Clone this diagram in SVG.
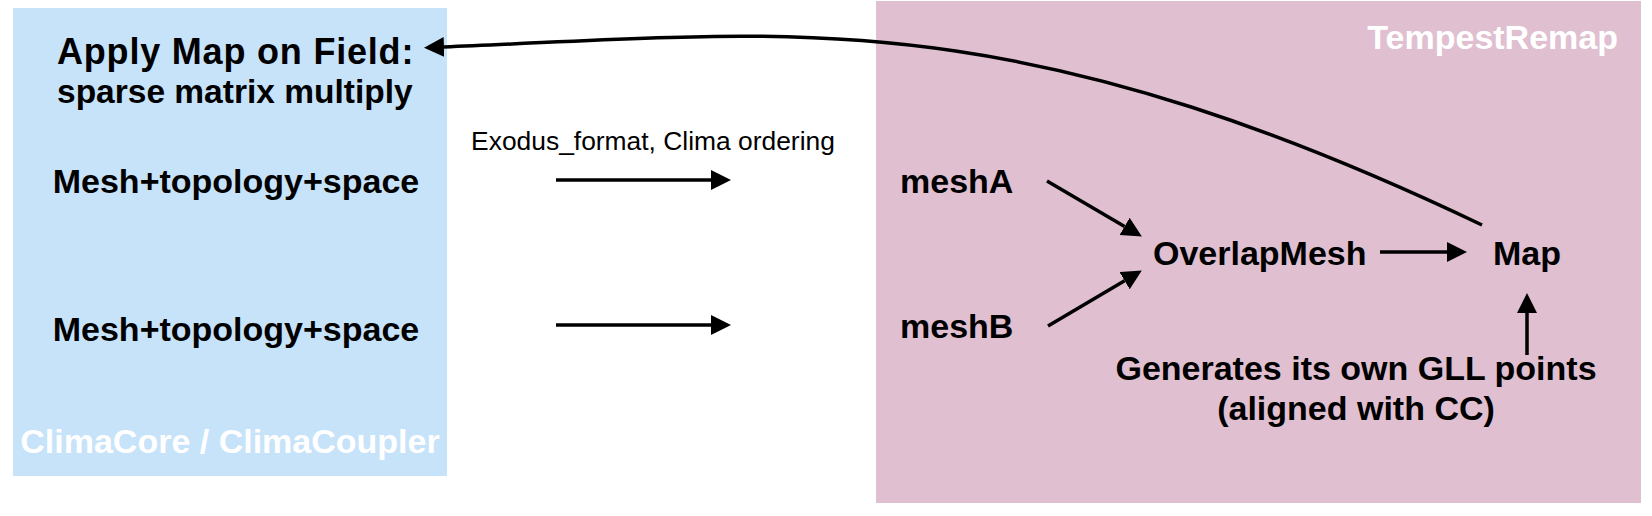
<svg xmlns="http://www.w3.org/2000/svg" width="1652" height="516" viewBox="0 0 1652 516">
<defs>
<style>
.b{font-family:"Liberation Sans",Arial,Helvetica,sans-serif;font-weight:bold;font-size:34px;fill:#000}
.w{font-family:"Liberation Sans",Arial,Helvetica,sans-serif;font-weight:bold;font-size:34px;fill:#fff}
.r{font-family:"Liberation Sans",Arial,Helvetica,sans-serif;font-size:26.4px;fill:#000}
.c{fill:none;stroke:#000;stroke-width:3.5}
</style>
<marker id="ah" markerUnits="userSpaceOnUse" markerWidth="20" markerHeight="20" viewBox="0 0 19 19" refX="0" refY="9.5" orient="auto">
<path d="M0,0 L19,9.5 L0,19 z" fill="#000"/>
</marker>
</defs>
<rect width="1652" height="516" fill="#fff"/>
<g id="climacore">
<rect x="13" y="8" width="434" height="468" fill="#c7e3f9"/>
<text class="w" x="230" y="453" text-anchor="middle">ClimaCore / ClimaCoupler</text>
</g>
<g id="tempestremap">
<rect x="876" y="1" width="765" height="502" fill="#dfbfd0"/>
<text class="w" x="1618" y="49" text-anchor="end">TempestRemap</text>
</g>
<g id="apply-map">
<text class="b" x="57" y="64" style="font-size:36px;letter-spacing:0.8px">Apply Map on Field:</text>
<text class="b" x="57" y="103" style="font-size:33.5px">sparse matrix multiply</text>
</g>
<g id="mesh1"><text class="b" x="236" y="193" text-anchor="middle">Mesh+topology+space</text></g>
<g id="mesh2"><text class="b" x="236" y="341" text-anchor="middle">Mesh+topology+space</text></g>
<g id="meshA"><text class="b" x="900" y="193">meshA</text></g>
<g id="meshB"><text class="b" x="900" y="338">meshB</text></g>
<g id="overlapmesh"><text class="b" x="1153" y="265">OverlapMesh</text></g>
<g id="map"><text class="b" x="1493" y="265">Map</text></g>
<g id="gll">
<text class="b" x="1356" y="380" text-anchor="middle">Generates its own GLL points</text>
<text class="b" x="1356" y="420" text-anchor="middle">(aligned with CC)</text>
</g>
<g id="connectors">
<text class="r" x="653" y="150" text-anchor="middle">Exodus_format, Clima ordering</text>
<path class="c" d="M556,180 H711" marker-end="url(#ah)"/>
<path class="c" d="M556,325 H711" marker-end="url(#ah)"/>
<path class="c" d="M1047,181 L1124.6,226.4" marker-end="url(#ah)"/>
<path class="c" d="M1048,326 L1124.6,280.7" marker-end="url(#ah)"/>
<path class="c" d="M1380,252 H1447" marker-end="url(#ah)"/>
<path class="c" d="M1527,355 V313" marker-end="url(#ah)"/>
<path class="c" d="M1482,225 C1000,-5 778,34 444,47" marker-end="url(#ah)"/>
</g>
</svg>
